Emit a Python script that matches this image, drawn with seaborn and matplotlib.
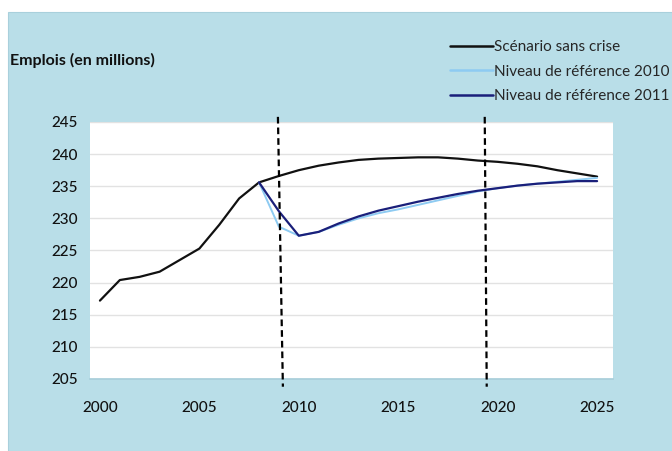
import matplotlib
matplotlib.use("Agg")
import matplotlib.pyplot as plt
import seaborn as sns
import pandas as pd
from matplotlib.patches import Rectangle
from matplotlib.lines import Line2D

years = list(range(2000, 2026))
sans_crise = [217.2, 220.4, 220.9, 221.7, 223.5, 225.3, 229.0, 233.1, 235.6, 236.6,
              237.5, 238.2, 238.7, 239.1, 239.3, 239.4, 239.5, 239.5, 239.3, 239.0,
              238.8, 238.5, 238.1, 237.5, 237.0, 236.5]
ref_years = list(range(2008, 2026))
ref_2010 = [235.6, 228.7, 227.3, 227.9, 229.0, 230.0, 230.8, 231.4, 232.1, 232.8,
            233.5, 234.2, 234.7, 235.1, 235.4, 235.7, 236.0, 236.3]
ref_2011 = [235.6, 231.1, 227.3, 227.9, 229.2, 230.3, 231.2, 231.9, 232.6, 233.2,
            233.8, 234.3, 234.7, 235.1, 235.4, 235.6, 235.8, 235.8]
series_names = ["Scénario sans crise", "Niveau de référence 2010", "Niveau de référence 2011"]
colors = ["#111111", "#8ecbf2", "#1a1f7a"]
y_ticks = list(range(205, 250, 5))
x_ticks = list(range(2000, 2030, 5))
dashed_x = [(2008.95, 2009.2), (2019.35, 2019.45)]

df = pd.concat([
    pd.DataFrame({"year": years, "value": sans_crise, "series": series_names[0]}),
    pd.DataFrame({"year": ref_years, "value": ref_2010, "series": series_names[1]}),
    pd.DataFrame({"year": ref_years, "value": ref_2011, "series": series_names[2]}),
])

sns.set_theme(style="white")
plt.rcParams["font.family"] = ["Lato", "DejaVu Sans"]

W, H = 672, 451
fig = plt.figure(figsize=(W / 100, H / 100), dpi=100)
fig.patch.set_facecolor("white")
bg = Rectangle((8 / W, 0), 1, 1 - 12 / H, transform=fig.transFigure,
               facecolor="#b9dee8", edgecolor="#a9d0dc", lw=0.8, zorder=-10)
fig.add_artist(bg)

ax = fig.add_axes([90 / W, 1 - 379 / H, (613 - 90) / W, (379 - 122) / H])
ax.set_zorder(1)
ax.set_facecolor("white")

sns.lineplot(data=df, x="year", y="value", hue="series", palette=dict(zip(series_names, colors)),
             hue_order=series_names, ax=ax, linewidth=1.6, legend=False, sort=False)
for line, lw in zip(ax.lines, [1.6, 1.4, 1.6]):
    line.set_linewidth(lw)

ax.set_xlim(1999.5, 2025.8)
ax.set_ylim(205, 245)
ax.set_yticks(y_ticks)
ax.set_xticks(x_ticks)
ax.yaxis.grid(True, color="#e2e2e2", lw=1.0)
ax.xaxis.grid(False)
ax.set_axisbelow(True)
for s in ["top", "right", "left"]:
    ax.spines[s].set_visible(False)
ax.spines["bottom"].set_color("#a9cfdb")
ax.tick_params(axis="x", length=3, color="#9ab", pad=13, labelsize=11, labelcolor="#111")
ax.tick_params(axis="y", length=0, pad=9, labelsize=11, labelcolor="#111")
for lbl in ax.get_xticklabels() + ax.get_yticklabels():
    lbl.set_fontweight("medium")
ax.set_xlabel("")
ax.set_ylabel("")

for x0, x1 in dashed_x:
    ax.plot([x0, x1], [245.8, 203.8], color="black", lw=1.6, ls=(0, (3, 1.8)),
            clip_on=False, zorder=5)

fig.text(10 / W, 1 - 60 / H, "Emplois (en millions)", fontsize=11.5, fontweight="bold",
         color="#111", va="center", ha="left")

handles = [Line2D([0], [0], color=c, lw=1.8) for c in colors]
fig.legend(handles, series_names, loc="upper left", bbox_to_anchor=(444 / W, 1 - 34 / H),
           frameon=False, fontsize=11, handlelength=2.8, handletextpad=0.1,
           labelspacing=0.68, borderaxespad=0)

fig.savefig("out.png", dpi=100)
